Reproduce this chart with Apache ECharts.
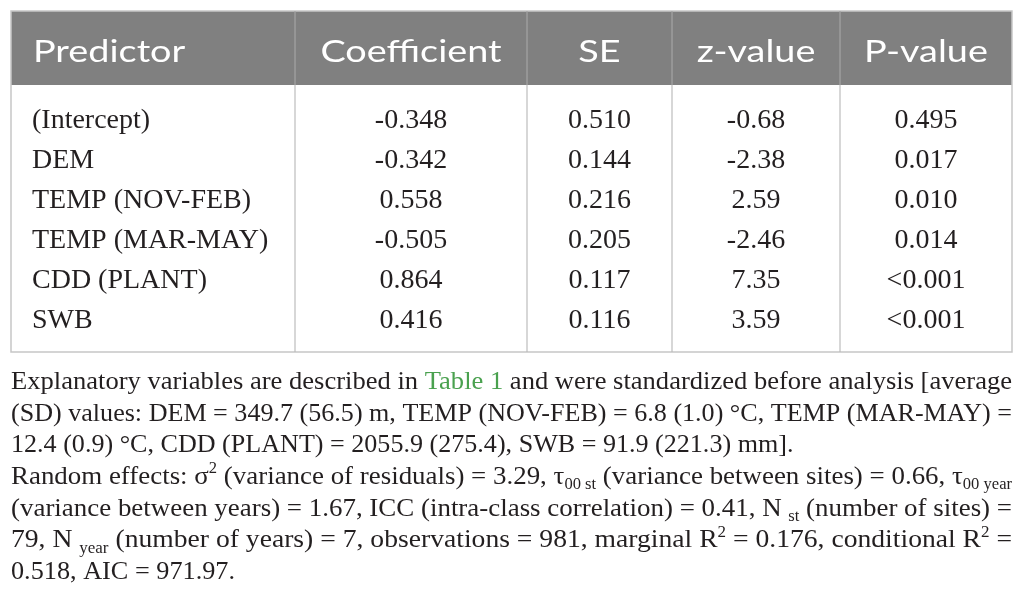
<!DOCTYPE html>
<html>
<head>
<meta charset="utf-8">
<title>ECharts</title>
<script src="https://cdn.jsdelivr.net/npm/echarts@6/dist/echarts.min.js"></script>
<style>html,body{margin:0;padding:0;background:#fff;}</style>
</head>
<body>
<div id="main" style="width:1025px;height:615px;"></div>
<script type="text/javascript">
// table content
var headers = ['Predictor', 'Coefficient', 'SE', 'z-value', 'P-value'];
var predictors = ['(Intercept)', 'DEM', 'TEMP (NOV-FEB)', 'TEMP (MAR-MAY)', 'CDD (PLANT)', 'SWB'];
var coefficient = ['-0.348', '-0.342', '0.558', '-0.505', '0.864', '0.416'];
var se = ['0.510', '0.144', '0.216', '0.205', '0.117', '0.116'];
var zValue = ['-0.68', '-2.38', '2.59', '-2.46', '7.35', '3.59'];
var pValue = ['0.495', '0.017', '0.010', '0.014', '<0.001', '<0.001'];

// footnote lines: [style, text] pieces (n normal, g link green, sup, sub)
var notes = [
    [['n', 'Explanatory variables are described in '], ['g', 'Table 1'], ['n', ' and were standardized before analysis [average']],
    [['n', '(SD) values: DEM = 349.7 (56.5) m, TEMP (NOV-FEB) = 6.8 (1.0) °C, TEMP (MAR-MAY) =']],
    [['n', '12.4 (0.9) °C, CDD (PLANT) = 2055.9 (275.4), SWB = 91.9 (221.3) mm].']],
    [['n', 'Random effects: σ'], ['sup', '2'], ['n', ' (variance of residuals) = 3.29, τ'], ['sub', '00 st'], ['n', ' (variance between sites) = 0.66, τ'], ['sub', '00 year']],
    [['n', '(variance between years) = 1.67, ICC (intra-class correlation) = 0.41, N '], ['sub', 'st'], ['n', ' (number of sites) =']],
    [['n', '79, N '], ['sub', 'year'], ['n', ' (number of years) = 7, observations = 981, marginal R'], ['sup', '2'], ['n', ' = 0.176, conditional R'], ['sup', '2'], ['n', ' =']],
    [['n', '0.518, AIC = 971.97.']]
];
var justified = [true, true, false, true, true, true, false];

// layout
var colEdges = [11, 295, 527, 672, 840, 1012];
var tableTop = 11, headBottom = 85, tableBottom = 352;
var serif = '"Liberation Serif", "DejaVu Serif", serif';
var noteSize = 26, subSize = 16;
var ink = '#231f20';

var myChart = echarts.init(document.getElementById('main'));

var columns = [predictors, coefficient, se, zValue, pValue];

var graphics = [];
// header band
graphics.push({
    type: 'rect', silent: true,
    shape: {x: colEdges[0], y: tableTop, width: colEdges[5] - colEdges[0], height: headBottom - tableTop},
    style: {fill: '#808080'}
});
// body border
graphics.push({
    type: 'rect', silent: true,
    shape: {x: colEdges[0], y: tableTop, width: colEdges[5] - colEdges[0], height: tableBottom - tableTop},
    style: {fill: null, stroke: '#c6c6c6', lineWidth: 1.5}
});
for (var c = 1; c < 5; c++) {
    graphics.push({
        type: 'line', silent: true,
        shape: {x1: colEdges[c], y1: tableTop, x2: colEdges[c], y2: headBottom},
        style: {stroke: '#a4a4a4', lineWidth: 1.2}
    });
    graphics.push({
        type: 'line', silent: true,
        shape: {x1: colEdges[c], y1: headBottom, x2: colEdges[c], y2: tableBottom},
        style: {stroke: '#bdbdbd', lineWidth: 1.2}
    });
}
// header labels (wide sans, stretched a little)
for (var h = 0; h < headers.length; h++) {
    graphics.push({
        type: 'text', silent: true,
        x: h === 0 ? 33 : (colEdges[h] + colEdges[h + 1]) / 2,
        y: 52,
        scaleX: 1.22,
        style: {
            text: headers[h],
            fill: '#ffffff',
            font: '31px Lato, "Noto Sans", sans-serif',
            align: h === 0 ? 'left' : 'center',
            verticalAlign: 'middle'
        }
    });
}

// footnotes with rich text, stretched to the full width where justified
var ctx = document.createElement('canvas').getContext('2d');
function measure(style, txt) {
    var size = (style === 'sup' || style === 'sub') ? subSize : noteSize;
    ctx.font = size + 'px ' + serif;
    return ctx.measureText(txt).width;
}
var lastScale = 1;
for (var l = 0; l < notes.length; l++) {
    var str = '', w = 0;
    notes[l].forEach(function (p) {
        str += '{' + p[0] + '|' + p[1] + '}';
        w += measure(p[0], p[1]);
    });
    // last line of a paragraph keeps the squeeze of the line above
    var s = justified[l] ? (colEdges[5] - colEdges[0]) / w : lastScale;
    if (l === 6) s = lastScale * 0.95;
    lastScale = s;
    graphics.push({
        type: 'text', silent: true,
        x: colEdges[0], y: 382 + l * 31.7,
        scaleX: s,
        style: {
            text: str,
            align: 'left',
            verticalAlign: 'middle',
            rich: {
                n: {fontFamily: serif, fontSize: noteSize, lineHeight: 32, fill: ink},
                g: {fontFamily: serif, fontSize: noteSize, lineHeight: 32, fill: '#4aa14f'},
                sup: {fontFamily: serif, fontSize: subSize, lineHeight: 18, verticalAlign: 'top', fill: ink},
                sub: {fontFamily: serif, fontSize: subSize, lineHeight: 15, verticalAlign: 'bottom', fill: ink}
            }
        }
    });
}

var option = {
    animation: false,
    grid: {left: colEdges[0], right: 1025 - colEdges[5], top: 101, height: 240},
    xAxis: {type: 'value', min: colEdges[0], max: colEdges[5], show: false},
    yAxis: {type: 'category', data: predictors, inverse: true, show: false},
    series: [{
        type: 'custom',
        silent: true,
        data: predictors.map(function (p, i) { return [i]; }),
        encode: {y: 0},
        renderItem: function (params, api) {
            var row = api.value(0);
            var children = [];
            for (var k = 0; k < columns.length; k++) {
                var xv = k === 0 ? 32 : (colEdges[k] + colEdges[k + 1]) / 2;
                var pt = api.coord([xv, row]);
                children.push({
                    type: 'text',
                    x: pt[0], y: pt[1],
                    style: {
                        text: columns[k][row],
                        fill: ink,
                        font: '28px ' + serif,
                        align: k === 0 ? 'left' : 'center',
                        verticalAlign: 'middle'
                    }
                });
            }
            return {type: 'group', children: children};
        }
    }],
    graphic: graphics
};

myChart.setOption(option);
</script>
</body>
</html>
